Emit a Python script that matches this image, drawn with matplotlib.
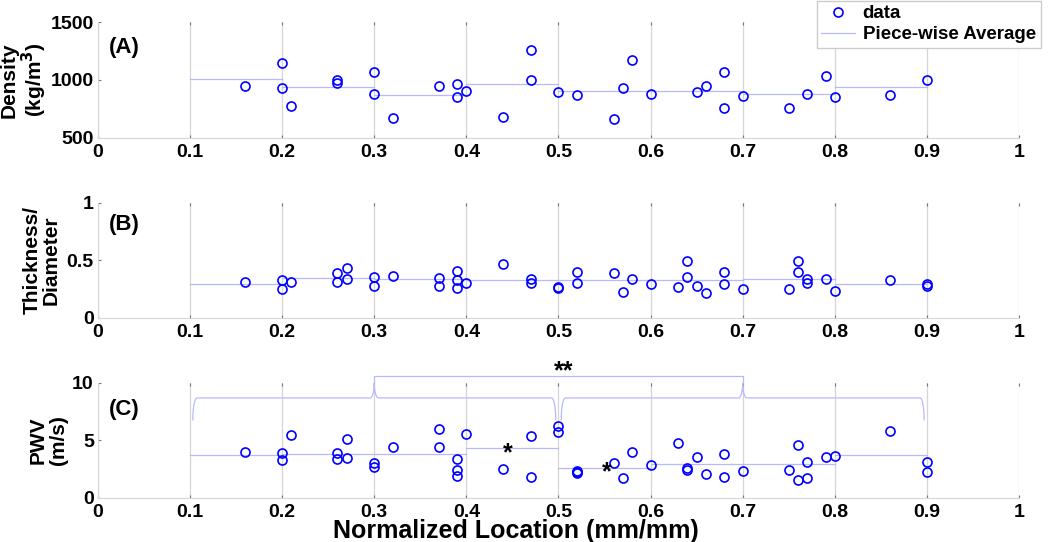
import matplotlib.pyplot as plt
import numpy as np

plt.rcParams['font.family'] = ['Liberation Sans', 'DejaVu Sans']
plt.rcParams['font.weight'] = 'bold'

# segment edges for the piece-wise averages
seg_edges = [0.1, 0.2, 0.3, 0.4, 0.5, 0.6, 0.7, 0.8, 0.9]

# (A) density
dens_x = [0.16, 0.20, 0.20, 0.21, 0.26, 0.26, 0.30, 0.30, 0.32, 0.37, 0.39, 0.39, 0.40,
          0.44, 0.47, 0.47, 0.50, 0.52, 0.56, 0.57, 0.58, 0.60, 0.65, 0.66, 0.68, 0.68,
          0.70, 0.75, 0.77, 0.79, 0.80, 0.86, 0.90]
dens_y = [948, 1144, 934, 779, 1000, 974, 1066, 882, 670, 948, 966, 856, 908,
          681, 1259, 1000, 899, 868, 661, 934, 1172, 879, 899, 948, 1069, 761,
          862, 756, 879, 1037, 856, 874, 1000]
dens_avg = [1009, 937, 868, 963, 905, 905, 879, 940]

# (B) thickness / diameter
td_x = [0.16, 0.20, 0.20, 0.21, 0.26, 0.26, 0.27, 0.27, 0.30, 0.30, 0.32, 0.37, 0.37,
        0.39, 0.39, 0.39, 0.40, 0.44, 0.47, 0.47, 0.50, 0.50, 0.52, 0.52, 0.56, 0.57,
        0.58, 0.60, 0.63, 0.64, 0.64, 0.65, 0.66, 0.68, 0.68, 0.70, 0.75, 0.76, 0.76,
        0.77, 0.77, 0.79, 0.80, 0.86, 0.90, 0.90]
td_y = [0.311, 0.331, 0.251, 0.311, 0.389, 0.317, 0.438, 0.340, 0.360, 0.274, 0.366, 0.346, 0.274,
        0.409, 0.331, 0.259, 0.308, 0.470, 0.337, 0.300, 0.268, 0.259, 0.403, 0.305, 0.395, 0.225,
        0.340, 0.294, 0.268, 0.496, 0.354, 0.277, 0.213, 0.398, 0.294, 0.256, 0.251, 0.496, 0.403,
        0.340, 0.300, 0.340, 0.231, 0.329, 0.294, 0.274]
td_avg = [0.294, 0.349, 0.337, 0.331, 0.329, 0.329, 0.340, 0.297]

# (C) pulse wave velocity
pwv_x = [0.16, 0.20, 0.20, 0.21, 0.26, 0.26, 0.27, 0.27, 0.30, 0.30, 0.32, 0.37, 0.37,
         0.39, 0.39, 0.39, 0.40, 0.44, 0.47, 0.47, 0.50, 0.50, 0.52, 0.52, 0.52, 0.56,
         0.57, 0.58, 0.60, 0.63, 0.64, 0.64, 0.65, 0.66, 0.68, 0.68, 0.70, 0.75, 0.76,
         0.76, 0.77, 0.77, 0.79, 0.80, 0.86, 0.90, 0.90]
pwv_y = [4.03, 3.94, 3.28, 5.48, 3.94, 3.39, 5.10, 3.45, 3.04, 2.67, 4.41, 5.97, 4.41,
         3.36, 2.46, 1.94, 5.57, 2.49, 5.42, 1.80, 6.26, 5.71, 2.38, 2.23, 2.14, 3.04,
         1.71, 4.03, 2.84, 4.78, 2.61, 2.41, 3.59, 2.12, 3.80, 1.80, 2.35, 2.41, 4.61,
         1.54, 3.10, 1.71, 3.54, 3.65, 5.83, 3.16, 2.29]
pwv_avg = [3.74, 3.83, 3.83, 4.35, 2.64, 2.96, 2.96, 3.74]

AVG_COLOR = (0.72, 0.72, 1.0)
GRID_COLOR = '#d6d6d6'


def brace(ax, x0, x1, y_mid, y_end, y_tip, r=0.0045, n=30):
    xm = (x0 + x1) / 2
    t = np.linspace(0, np.pi / 2, n)
    ex = x0 + r - r * np.cos(t)
    ey = y_end + (y_mid - y_end) * np.sin(t)
    cx = xm - r + r * np.sin(t)
    cy = y_tip - (y_tip - y_mid) * np.cos(t)
    lx = np.concatenate([ex, cx])
    ly = np.concatenate([ey, cy])
    xs = np.concatenate([lx, 2 * xm - lx[::-1]])
    ys = np.concatenate([ly, ly[::-1]])
    ax.plot(xs, ys, color=AVG_COLOR, lw=0.9, clip_on=False)


def panel(ax, x, y, avg, ylim, yticks, yticklabels, ylabel, label_x, tag, tag_y):
    ax.plot(x, y, 'o', ms=6.5, mfc='none', mec='blue', mew=1.2, label='data', zorder=3)
    for i, v in enumerate(avg):
        ax.plot([seg_edges[i], seg_edges[i + 1]], [v, v], color=AVG_COLOR, lw=0.9,
                label='Piece-wise Average' if i == 0 else None)
    ax.set_xlim(0, 1)
    ax.set_ylim(*ylim)
    ax.set_xticks(np.arange(0, 1.01, 0.1))
    ax.set_xticklabels(['0'] + [f'{v:.1f}' for v in np.arange(0.1, 0.95, 0.1)] + ['1'])
    ax.set_yticks(yticks)
    ax.set_yticklabels(yticklabels)
    ax.grid(axis='x', color=GRID_COLOR, lw=0.9)
    ax.set_axisbelow(True)
    for side in ['top', 'right']:
        ax.spines[side].set_visible(False)
    for side in ['left', 'bottom']:
        ax.spines[side].set_color(GRID_COLOR)
    ax.tick_params(direction='in', length=2.5, width=0.8, color='#777777',
                   labelsize=14, pad=4, top=True)
    ax.tick_params(axis='y', pad=3)
    ax.set_ylabel(ylabel, fontsize=15, fontweight='bold', linespacing=1.05)
    ax.yaxis.set_label_coords(label_x, 0.5)
    ax.text(0.012, tag_y, tag, fontsize=16, fontweight='bold', va='center', ha='left')


fig = plt.figure(figsize=(10.5, 5.42), dpi=100)
ax_a = fig.add_axes([0.0933, 0.7454, 0.8772, 0.2140])
ax_b = fig.add_axes([0.0933, 0.4133, 0.8772, 0.2122])
ax_c = fig.add_axes([0.0933, 0.0812, 0.8772, 0.2122])

panel(ax_a, dens_x, dens_y, dens_avg, (500, 1500), [500, 1000, 1500], ['500', '1000', '1500'],
      'Density\n(kg/m$^\\mathbf{3}$)', -0.053, '(A)', 1280)
panel(ax_b, td_x, td_y, td_avg, (0, 1), [0, 0.5, 1], ['0', '0.5', '1'],
      'Thickness/\nDiameter', -0.040, '(B)', 0.81)
panel(ax_c, pwv_x, pwv_y, pwv_avg, (0, 10), [0, 5, 10], ['0', '5', '10'],
      'PWV\n(m/s)', -0.033, '(C)', 7.7)

# significance braces in panel C
brace(ax_c, 0.103, 0.497, 8.7, 6.8, 10.0)
brace(ax_c, 0.503, 0.897, 8.7, 6.8, 10.0)
ax_c.plot([0.3, 0.3, 0.7, 0.7], [10.0, 10.62, 10.62, 10.0], color=AVG_COLOR, lw=0.9, clip_on=False)
ax_c.text(0.506, 11.0, '**', fontsize=18, fontweight='bold', ha='center', va='center')
ax_c.text(0.445, 3.9, '*', fontsize=18, fontweight='bold', ha='center', va='center')
ax_c.text(0.552, 2.25, '*', fontsize=18, fontweight='bold', ha='center', va='center')

ax_c.set_xlabel('Normalized Location (mm/mm)', fontsize=18, fontweight='bold')
ax_c.xaxis.set_label_coords(0.454, -0.18)

handles, labels = ax_a.get_legend_handles_labels()
fig.legend(handles, labels, loc='upper right', bbox_to_anchor=(0.991, 0.999),
           fontsize=13.5, frameon=True, fancybox=False, edgecolor='#cccccc',
           borderaxespad=0, handlelength=1.8, handletextpad=0.4, borderpad=0.25,
           labelspacing=0.2, numpoints=1, framealpha=1)

fig.savefig('out.png', dpi=100)
